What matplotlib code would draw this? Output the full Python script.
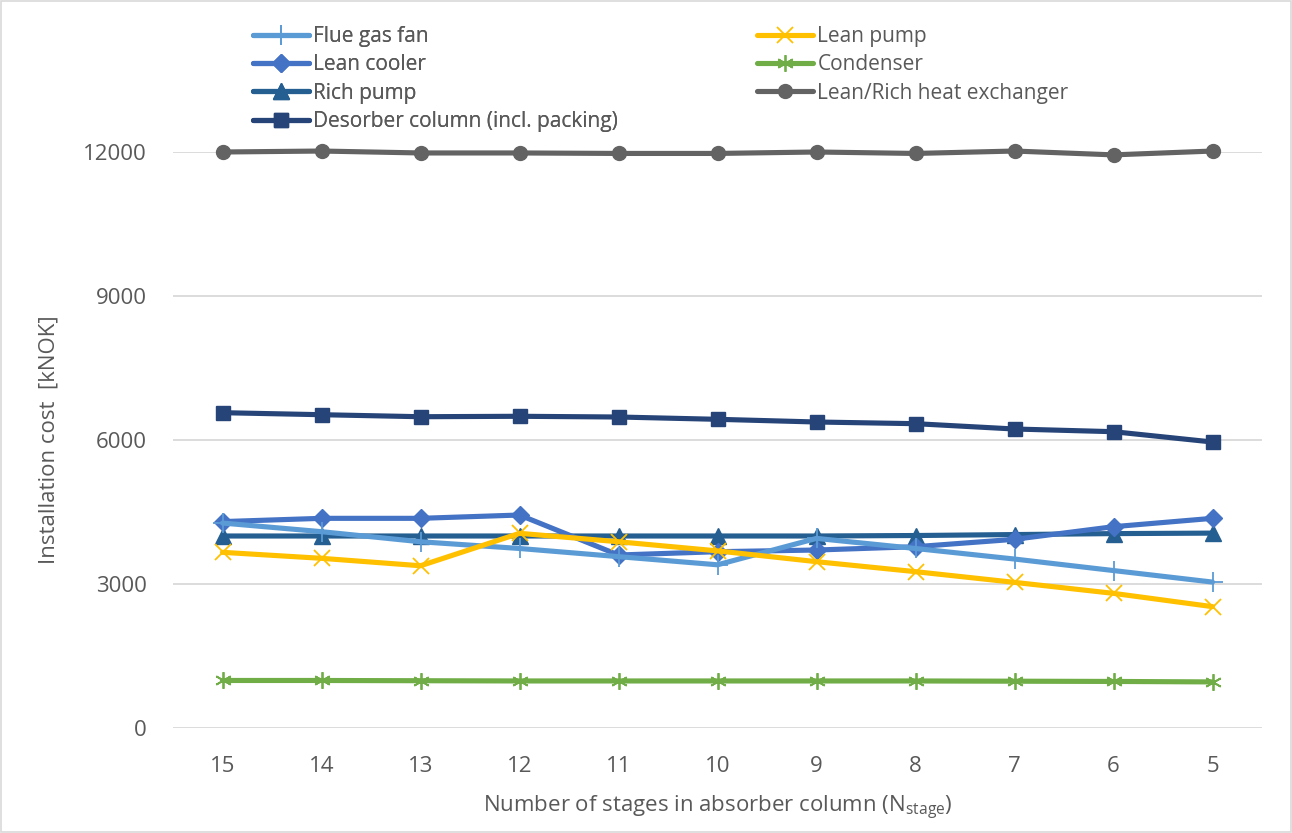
import matplotlib
matplotlib.use("Agg")
import matplotlib.pyplot as plt
from matplotlib.patches import Rectangle

# Absorber stage counts (x axis, descending as plotted)
stages = ["15", "14", "13", "12", "11", "10", "9", "8", "7", "6", "5"]

# Installation cost per equipment item [kNOK]
flue_gas_fan = [4270, 4090, 3880, 3740, 3570, 3400, 3950, 3740, 3520, 3280, 3040]
lean_pump = [3660, 3535, 3380, 4056, 3880, 3690, 3465, 3257, 3034, 2805, 2528]
lean_cooler = [4300, 4368, 4368, 4437, 3604, 3673, 3708, 3777, 3931, 4194, 4368]
condenser = [990, 990, 985, 980, 980, 980, 980, 980, 975, 970, 960]
rich_pump = [4000, 4000, 4000, 4000, 4000, 4000, 4000, 4010, 4030, 4050, 4060]
lean_rich_hx = [12000, 12020, 11980, 11980, 11970, 11970, 12000, 11970, 12020, 11940, 12020]
desorber = [6569, 6527, 6485, 6494, 6479, 6431, 6375, 6340, 6229, 6173, 5958]

plt.rcParams["font.family"] = ["Open Sans", "DejaVu Sans"]
plt.rcParams["mathtext.fontset"] = "custom"
plt.rcParams["mathtext.rm"] = "Open Sans"
text_color = "#595959"
fs = 16

fig = plt.figure(figsize=(12.92, 8.33), dpi=100)
ax = fig.add_axes([173 / 1292, 1 - 728 / 833, (1262 - 173) / 1292, (728 - 152) / 833])

x = list(range(len(stages)))
lw = 3.7

series = [
    ("Flue gas fan", flue_gas_fan, "#5B9BD5", dict(marker="+", markersize=14, markeredgewidth=1.3)),
    ("Lean cooler", lean_cooler, "#4472C4", dict(marker="D", markersize=9.5)),
    ("Rich pump", rich_pump, "#255E91", dict(marker="^", markersize=11)),
    ("Desorber column (incl. packing)", desorber, "#264478", dict(marker="s", markersize=10.5)),
    ("Lean pump", lean_pump, "#FFC000", dict(marker="x", markersize=11.5, markeredgewidth=1.3)),
    ("Condenser", condenser, "#70AD47", dict(marker=(6, 2, 0), markersize=12, markeredgewidth=1.3)),
    ("Lean/Rich heat exchanger", lean_rich_hx, "#636363", dict(marker="o", markersize=10)),
]

draw_order = [6, 5, 3, 2, 1, 0, 4]
handles = {}
for i, (name, vals, col, mk) in enumerate(series):
    h, = ax.plot(x, vals, color=col, lw=lw, label=name, clip_on=False,
                 markerfacecolor=col, markeredgecolor=col, zorder=3 + draw_order.index(i) * 0.1,
                 solid_joinstyle="round", solid_capstyle="round", **mk)
    handles[name] = h

ax.set_xlim(-0.5, len(stages) - 0.5)
ax.set_ylim(0, 12000)
ax.set_yticks([0, 3000, 6000, 9000, 12000])
ax.set_xticks(x)
ax.set_xticklabels(stages)
ax.tick_params(axis="both", length=0, labelsize=fs, colors=text_color)
ax.tick_params(axis="y", pad=19)
ax.tick_params(axis="x", pad=20)
ax.grid(axis="y", color="#D9D9D9", lw=1.3)
ax.set_axisbelow(True)
for s in ax.spines.values():
    s.set_visible(False)

ax.set_ylabel("Installation cost  [kNOK]", fontsize=fs, color=text_color, labelpad=17)
ax.set_xlabel(r"Number of stages in absorber column (N$_{\mathregular{stage}}$)",
              fontsize=fs, color=text_color, labelpad=12)

leg_fs = 15
leg_kw = dict(frameon=False, fontsize=leg_fs, handlelength=2.7, handletextpad=0.2,
              labelspacing=0.35, borderaxespad=0, borderpad=0, labelcolor=text_color)
names1 = ["Flue gas fan", "Lean cooler", "Rich pump", "Desorber column (incl. packing)"]
names2 = ["Lean pump", "Condenser", "Lean/Rich heat exchanger"]
leg1 = fig.legend([handles[n] for n in names1], names1, loc="upper left",
                  bbox_to_anchor=(253 / 1292, 1 - 26 / 833), **leg_kw)
fig.add_artist(leg1)
fig.legend([handles[n] for n in names2], names2, loc="upper left",
           bbox_to_anchor=(757 / 1292, 1 - 26 / 833), **leg_kw)

fig.add_artist(Rectangle((0.0008, 0.0012), 0.9984, 0.9976, transform=fig.transFigure,
                         fill=False, edgecolor="#D9D9D9", lw=1.2))

fig.savefig("out.png", dpi=100, facecolor="white")
